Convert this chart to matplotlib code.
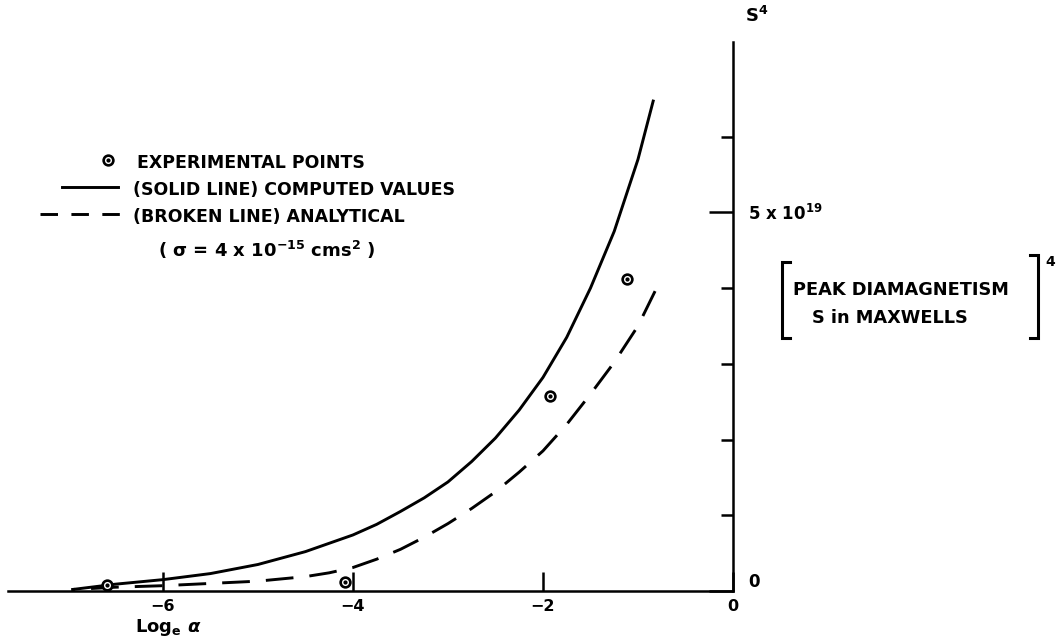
import numpy as np
import matplotlib
matplotlib.use('Agg')
import matplotlib.pyplot as plt
from matplotlib.lines import Line2D

plt.rcParams['font.family'] = ['DejaVu Sans']
plt.rcParams['font.weight'] = 'bold'
plt.rcParams['mathtext.fontset'] = 'custom'
plt.rcParams['mathtext.rm'] = 'DejaVu Sans:bold'
plt.rcParams['mathtext.it'] = 'DejaVu Sans:bold:oblique'
plt.rcParams['mathtext.bf'] = 'DejaVu Sans:bold'
plt.rcParams['mathtext.default'] = 'rm'

# S^4 in units of 1e19 (maxwells^4) against log_e(alpha)
solid_x = [-6.95, -6.5, -6.0, -5.5, -5.0, -4.5, -4.0, -3.75, -3.5, -3.25, -3.0,
           -2.75, -2.5, -2.25, -2.0, -1.75, -1.5, -1.25, -1.0, -0.84]
solid_y = [0.02, 0.09, 0.15, 0.23, 0.35, 0.52, 0.74, 0.88, 1.05, 1.23, 1.44,
           1.71, 2.02, 2.39, 2.82, 3.35, 4.0, 4.75, 5.7, 6.47]

dashed_x = [-6.95, -6.5, -6.0, -5.5, -5.0, -4.5, -4.25, -4.0, -3.75, -3.5, -3.25,
            -3.0, -2.75, -2.5, -2.25, -2.0, -1.75, -1.5, -1.25, -1.0, -0.82]
dashed_y = [0.02, 0.05, 0.07, 0.10, 0.13, 0.19, 0.24, 0.31, 0.42, 0.55, 0.71,
            0.89, 1.09, 1.31, 1.57, 1.85, 2.2, 2.6, 3.02, 3.5, 3.96]

exp_x = [-6.59, -4.08, -1.93, -1.12]
exp_y = [0.08, 0.12, 2.58, 4.12]

xticks = [-6, -4, -2, 0]
xtick_labels = ['\u22126', '\u22124', '\u22122', '0']
ymajor = [0, 5]
ymajor_labels = ['0', '5 x 10$^{19}$']
yminor = [1, 2, 3, 4, 6]

W, H = 1063, 641


def fx(px):
    return px / W


def fy(py):
    return 1 - py / H


fig = plt.figure(figsize=(W / 100, H / 100), dpi=100)
ax = fig.add_axes([fx(8), fy(591), (733 - 8) / W, (591 - 42) / H])
ax.set_xlim(-7.63, 0)
ax.set_ylim(0, 7.25)
ax.patch.set_visible(False)

for s in ['top', 'left']:
    ax.spines[s].set_visible(False)
for s in ['bottom', 'right']:
    ax.spines[s].set_linewidth(1.8)

ax.plot(solid_x, solid_y, color='black', lw=2.1, solid_joinstyle='round')
# dash pattern starts at the upper end so it finishes on a full dash there
ax.plot(dashed_x[::-1], dashed_y[::-1], color='black', lw=2.1, dashes=(9.5, 5.5))
ax.plot(exp_x, exp_y, 'o', ms=7, mfc='white', mec='black', mew=1.9, zorder=5)
ax.plot(exp_x, exp_y, 'o', ms=2, color='black', zorder=6)

ax.set_xticks(xticks)
ax.set_xticklabels(xtick_labels)
ax.tick_params(axis='x', direction='in', length=14, width=1.8, pad=6, labelsize=11.5)

ax.yaxis.tick_right()
ax.set_yticks(ymajor)
ax.set_yticklabels(ymajor_labels)
ax.set_yticks(yminor, minor=True)
ax.tick_params(axis='y', which='major', direction='in', length=17, width=1.8,
               pad=11, labelsize=12)
ax.tick_params(axis='y', which='minor', direction='in', length=9, width=1.8)
ax.get_yticklabels()[0].set_va('bottom')

# x axis title
fig.text(fx(135), fy(627), 'Log$_{e}$ $\\mathit{\\alpha}$', fontsize=13,
         ha='left', va='center')

# y axis title
fig.text(fx(745), fy(16), 'S$^{4}$', fontsize=13, ha='left', va='center')
fig.text(fx(793), fy(290), 'PEAK DIAMAGNETISM', fontsize=12.8, ha='left', va='center')
fig.text(fx(812), fy(318), 'S in MAXWELLS', fontsize=12.8, ha='left', va='center')
fig.text(fx(1045), fy(262), '4', fontsize=10, ha='left', va='center')
bracket = dict(color='black', lw=2.2, solid_joinstyle='miter')
fig.add_artist(Line2D([fx(790), fx(782), fx(782), fx(790)],
                      [fy(262), fy(262), fy(338), fy(338)], **bracket))
fig.add_artist(Line2D([fx(1030), fx(1038), fx(1038), fx(1030)],
                      [fy(255), fy(255), fy(338), fy(338)], **bracket))

# key
fig.add_artist(Line2D([fx(108)], [fy(160)], marker='o', ms=7, mfc='white',
                      mec='black', mew=1.9, ls='none'))
fig.add_artist(Line2D([fx(108)], [fy(160)], marker='o', ms=2, color='black', ls='none'))
fig.add_artist(Line2D([fx(62), fx(118)], [fy(187), fy(187)], color='black', lw=2.1))
fig.add_artist(Line2D([fx(40), fx(120)], [fy(214), fy(214)], color='black', lw=2.1,
                      dashes=(6, 4.6)))
fig.text(fx(137), fy(163), 'EXPERIMENTAL POINTS', fontsize=12.5, ha='left', va='center')
fig.text(fx(133), fy(190), '(SOLID LINE) COMPUTED VALUES', fontsize=12.5,
         ha='left', va='center')
fig.text(fx(133), fy(217), '(BROKEN LINE) ANALYTICAL', fontsize=12.5,
         ha='left', va='center')
fig.text(fx(158), fy(250), '( \u03c3 = 4 x 10$^{-15}$ cms$^{2}$ )', fontsize=13,
         ha='left', va='center')

fig.savefig('out.png', dpi=100)
